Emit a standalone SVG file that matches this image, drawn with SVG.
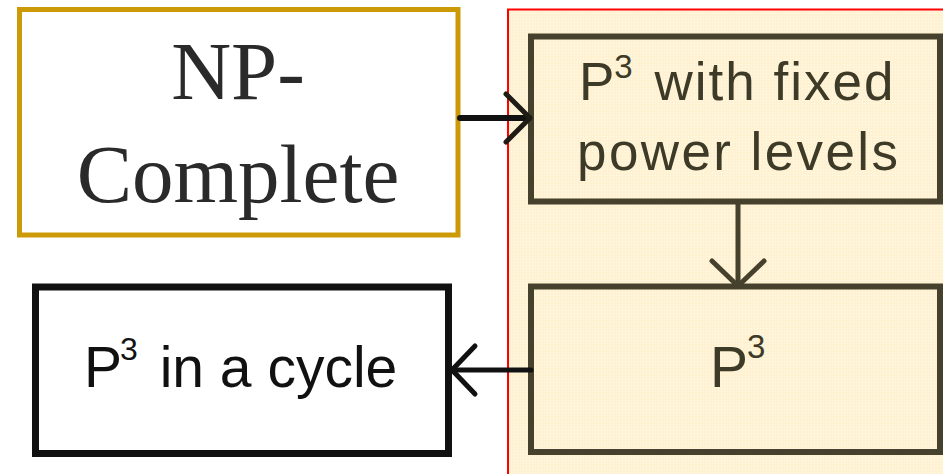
<svg xmlns="http://www.w3.org/2000/svg" width="943" height="474" viewBox="0 0 943 474">
  <defs>
    <style>
      .serif { font-family: "Liberation Serif", "Times New Roman", serif; fill: #2a2a2a; }
      .sans { font-family: "Liberation Sans", Arial, sans-serif; }
      .olive { fill: #3e3a28; }
      .olivebox { fill: none; stroke: #46412c; stroke-width: 6; }
      .conn { fill: none; stroke-linecap: round; stroke-linejoin: round; }
    </style>
    <pattern id="dots" width="3" height="3" patternUnits="userSpaceOnUse">
      <rect width="3" height="3" fill="#FFF2D2"/>
      <rect x="1" y="1" width="1" height="1" fill="#FFFBEE"/>
    </pattern>
  </defs>
  <rect width="943" height="474" fill="#ffffff"/>

  <g id="region">
    <rect x="508" y="9.5" width="440" height="470" fill="url(#dots)" stroke="#ff0000" stroke-width="2"/>
  </g>

  <g id="np-complete">
    <rect x="19.5" y="9.5" width="438.5" height="225.5" fill="#ffffff" stroke="#CC9A06" stroke-width="5"/>
    <text class="serif" x="238" y="99" font-size="83" text-anchor="middle">NP-</text>
    <text class="serif" x="238" y="202" font-size="83" text-anchor="middle">Complete</text>
  </g>

  <g id="p3-fixed">
    <rect class="olivebox" x="531" y="36.5" width="409" height="165"/>
    <text class="sans olive" x="579" y="100" font-size="53">P<tspan dx="0" dy="-22" font-size="33">3</tspan><tspan dy="22" dx="5" letter-spacing="2"> with fixed</tspan></text>
    <text class="sans olive" x="577" y="170" font-size="53" letter-spacing="2.4">power levels</text>
  </g>

  <g id="p3">
    <rect class="olivebox" x="531" y="286.5" width="409" height="165.5"/>
    <text class="sans olive" x="710" y="387" font-size="57">P<tspan dx="-1" dy="-29" font-size="33">3</tspan></text>
  </g>

  <g id="p3-cycle">
    <rect x="35.5" y="287" width="413" height="166.5" fill="#ffffff" stroke="#111111" stroke-width="7"/>
    <text class="sans" x="84" y="387" font-size="57" fill="#111111">P<tspan dx="-2" dy="-27" font-size="32">3</tspan><tspan dy="27" dx="6"> in a cycle</tspan></text>
  </g>

  <g id="connectors">
    <path class="conn" d="M 460 118 L 529 118" stroke="#111111" stroke-width="6"/>
    <path class="conn" d="M 506 94 L 530 118 L 506 142" stroke="#1e1c14" stroke-width="5"/>
    <path class="conn" d="M 738 202 L 738 285" stroke="#46412c" stroke-width="5"/>
    <path class="conn" d="M 712 261 L 738 286 L 764 261" stroke="#46412c" stroke-width="5"/>
    <path class="conn" d="M 531 370 L 453 370" stroke="#111111" stroke-width="5"/>
    <path class="conn" d="M 475 346 L 452 370 L 475 394" stroke="#111111" stroke-width="5"/>
  </g>
</svg>
